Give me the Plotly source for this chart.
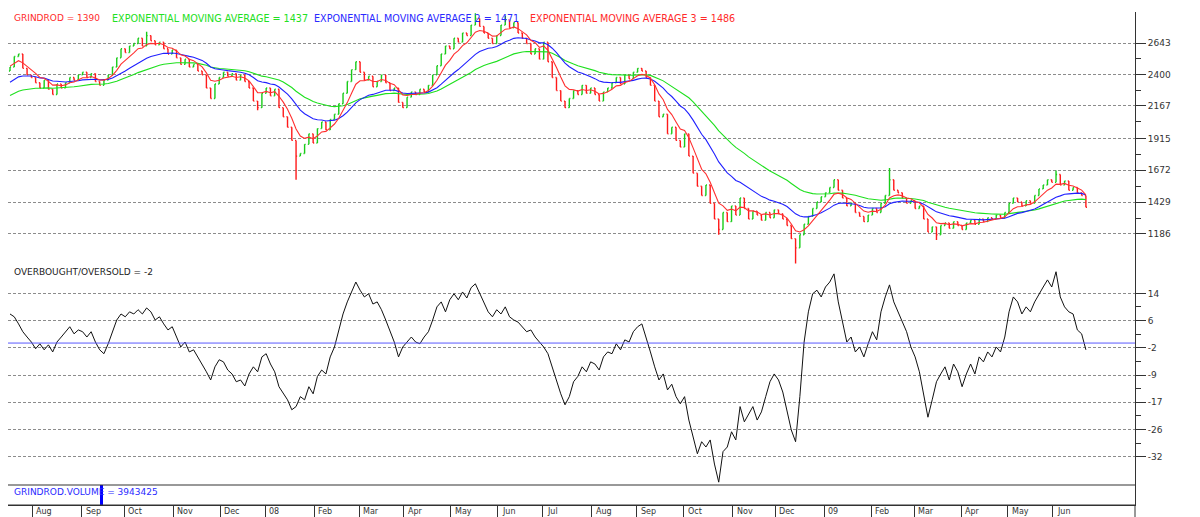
import pandas as pd
import plotly.graph_objects as go
from plotly.subplots import make_subplots

# ---------------- data ----------------
start_date = "2007-07-17"          # first trading day shown
days_per_bar = 2                   # one bar per two trading days
first_open = 2430

close = [
    2460, 2540, 2560, 2450, 2400, 2380, 2340, 2300, 2360, 2290,
    2250, 2330, 2300, 2340, 2380, 2360, 2400, 2420, 2380, 2410,
    2350, 2320, 2360, 2400, 2460, 2530, 2600, 2570, 2620, 2640,
    2680, 2620, 2700, 2660, 2630, 2650, 2600, 2560, 2590, 2530,
    2480, 2520, 2460, 2480, 2430, 2400, 2300, 2220, 2330, 2380,
    2420, 2390, 2410, 2360, 2400, 2350, 2300, 2200, 2150, 2260,
    2300, 2240, 2290, 2150, 2080, 2000, 1900, 1780, 1800, 1870,
    1950, 1880, 1990, 2040, 1980, 2060, 2100, 2180, 2260, 2350,
    2440, 2500, 2420, 2360, 2390, 2310, 2350, 2400, 2340, 2280,
    2300, 2190, 2150, 2230, 2270, 2250, 2290, 2270, 2320, 2400,
    2470, 2560, 2620, 2600, 2680, 2650, 2720, 2700, 2780, 2830,
    2770, 2720, 2680, 2640, 2700, 2780, 2820, 2760, 2800, 2720,
    2680, 2640, 2560, 2600, 2520, 2650, 2500, 2380, 2280, 2200,
    2150, 2220, 2280, 2250, 2320, 2260, 2300, 2250, 2200, 2270,
    2300, 2340, 2380, 2330, 2400, 2370, 2420, 2450, 2430, 2380,
    2320, 2200, 2080, 2100, 1950, 2000, 1900, 1850, 1950, 1780,
    1650, 1550, 1480, 1560, 1420, 1300, 1220, 1350, 1280, 1400,
    1330, 1460, 1380, 1300, 1360, 1330, 1290, 1350, 1310, 1370,
    1340, 1300, 1250, 1150, 1080, 1180, 1260, 1320, 1380, 1430,
    1470, 1500, 1540, 1600, 1520, 1460, 1400, 1420, 1350, 1320,
    1280, 1330, 1380, 1350, 1420, 1480, 1600, 1520, 1500, 1460,
    1420, 1440, 1380, 1400, 1300, 1200, 1240, 1180, 1250, 1270,
    1230, 1280, 1250, 1220, 1270, 1290, 1260, 1300, 1280, 1310,
    1300, 1330, 1310, 1350, 1420, 1460, 1430, 1400, 1440, 1420,
    1480, 1530, 1560, 1600, 1580, 1640, 1560, 1590, 1520, 1540,
    1500, 1480, 1390,
]

osc = [
    8.2, 7.4, 5.4, 3.2, 1.7, 0.3, -1.6, -0.2, -1.9, -0.5,
    -2.5, 0.3, 1.7, 3.2, 4.6, 2.6, 3.7, 3.2, 1.7, 3.2,
    0.3, -1.9, -3.0, -0.2, 3.2, 6.5, 8.2, 7.4, 8.8, 8.2,
    9.4, 8.2, 9.9, 8.8, 6.5, 7.4, 5.4, 3.7, 4.6, 1.7,
    -1.1, 0.3, -2.5, -1.9, -3.9, -5.9, -8.1, -10.4, -6.7, -4.7,
    -5.3, -7.6, -8.7, -10.9, -10.4, -12.1, -8.7, -6.7, -8.1, -3.9,
    -3.0, -5.9, -8.1, -12.3, -14.3, -16.0, -18.8, -17.9, -15.1, -16.0,
    -12.3, -14.3, -9.4, -7.6, -8.7, -3.9, -1.1, 3.2, 8.2, 11.6,
    14.4, 17.2, 14.9, 13.0, 13.9, 11.0, 11.6, 9.4, 6.5, 3.2,
    0.3, -3.9, -1.1, 0.3, 1.7, 0.3, -0.2, 1.7, 3.2, 6.5,
    10.2, 11.6, 8.8, 12.2, 13.9, 12.2, 14.4, 12.7, 15.6, 16.7,
    13.9, 11.6, 8.8, 7.4, 9.4, 8.2, 10.2, 7.4, 6.5, 5.9,
    4.6, 3.2, 3.7, 1.7, 0.3, -1.1, -3.0, -6.7, -10.9, -14.3,
    -17.4, -15.1, -10.9, -9.4, -6.7, -8.1, -5.3, -5.9, -7.6, -3.9,
    -2.5, -3.0, -0.2, -1.9, 0.9, 0.3, 3.2, 4.6, 5.4, 1.7,
    -2.5, -6.7, -10.4, -8.7, -13.2, -11.6, -15.1, -17.1, -15.1, -21.7,
    -26.4, -31.2, -27.8, -29.3, -27.3, -34.1, -39.2, -30.6, -29.3, -25.0,
    -27.3, -17.9, -22.2, -19.9, -17.9, -21.7, -19.4, -15.1, -10.9, -8.7,
    -10.4, -13.8, -19.4, -24.5, -27.8, -15.1, 0.3, 8.8, 13.9, 14.9,
    13.0, 15.8, 17.2, 19.5, 11.6, 5.4, 0.3, 1.7, -2.5, -1.1,
    -3.9, -0.2, 3.2, 0.9, 8.8, 13.0, 16.4, 11.6, 8.8, 5.9,
    3.2, -1.1, -3.9, -8.1, -15.1, -20.9, -16.0, -10.9, -8.7, -6.7,
    -10.4, -5.9, -8.1, -12.3, -8.7, -5.9, -8.7, -3.9, -5.3, -2.5,
    -3.9, -1.1, -2.5, 1.7, 8.8, 13.0, 11.6, 8.2, 10.2, 8.8,
    11.6, 13.9, 15.8, 17.8, 15.8, 20.1, 13.0, 10.2, 8.8, 8.2,
    3.7, 2.6, -1.9,
]

# intraday extremes that reach beyond the open/close range (bar index -> value)
wick_high_bar = [32, 109, 116, 206, 245]
wick_high_val = [2730, 2870, 2850, 1690, 1670]
wick_low_bar = [58, 67, 166, 184, 217]
wick_low_val = [2130, 1600, 1180, 960, 1140]

# EMA periods (in bars) and their starting values at the left edge
ema_span = {"fast": 6, "mid": 18, "slow": 36}
ema_seed = {"fast": 2470, "mid": 2330, "slow": 2230}

volume_day = [43]
volume_val = [41000000]

price_ticks = [1186, 1429, 1672, 1915, 2167, 2400, 2643]
osc_tick_text = ["14", "6", "-2", "-9", "-17", "-26", "-32"]

legend_texts = [
    ("GRINDROD = 1390", "#ff2a2a", 12, 9),
    ("EXPONENTIAL MOVING AVERAGE = 1437", "#22e022", 110, 9.6),
    ("EXPONENTIAL MOVING AVERAGE 2 = 1471", "#2a2aff", 312, 9.6),
    ("EXPONENTIAL MOVING AVERAGE 3 = 1486", "#ff2a2a", 528, 9.6),
]

# ---------------- derived ----------------
n = len(close)
bar_x = [i * days_per_bar for i in range(n)]
opens = [first_open] + close[:-1]
highs = [max(o, c) for o, c in zip(opens, close)]
lows = [min(o, c) for o, c in zip(opens, close)]
for b, v in zip(wick_high_bar, wick_high_val):
    highs[b] = max(highs[b], v)
for b, v in zip(wick_low_bar, wick_low_val):
    lows[b] = min(lows[b], v)


def ema(values, span, seed):
    a = 2.0 / (span + 1)
    out, e = [], seed
    for v in values:
        e = e + a * (v - e)
        out.append(e)
    return out


ema_fast = ema(close, ema_span["fast"], ema_seed["fast"])
ema_mid = ema(close, ema_span["mid"], ema_seed["mid"])
ema_slow = ema(close, ema_span["slow"], ema_seed["slow"])

days = pd.bdate_range(start_date, periods=530)
last_day = bar_x[-1]
month_idx, month_lab = [], []
for i in range(1, last_day + 1):
    if days[i].month != days[i - 1].month:
        month_idx.append(i)
        d = days[i]
        month_lab.append(d.strftime("%y") if d.month == 1 else d.strftime("%b"))

# ---------------- figure ----------------
W, H = 1200, 517
FONT = "DejaVu Sans"


def py(px):  # pixel-from-top -> paper y
    return 1 - px / H


fig = make_subplots(rows=3, cols=1, shared_xaxes=True, vertical_spacing=0)

fig.add_trace(go.Ohlc(x=bar_x, open=opens, high=highs, low=lows, close=close,
                      increasing=dict(line=dict(color="#19cc19", width=1.4)),
                      decreasing=dict(line=dict(color="#ff1a1a", width=1.4)),
                      tickwidth=0.25, showlegend=False, hoverinfo="skip"),
              row=1, col=1)
fig.add_trace(go.Scatter(x=bar_x, y=ema_slow, mode="lines",
                         line=dict(color="#1ee01e", width=1.1), showlegend=False),
              row=1, col=1)
fig.add_trace(go.Scatter(x=bar_x, y=ema_mid, mode="lines",
                         line=dict(color="#2020ff", width=1.1), showlegend=False),
              row=1, col=1)
fig.add_trace(go.Scatter(x=bar_x, y=ema_fast, mode="lines",
                         line=dict(color="#ff3030", width=1.1), showlegend=False),
              row=1, col=1)

fig.add_trace(go.Scatter(x=bar_x, y=osc, mode="lines",
                         line=dict(color="#111111", width=1), showlegend=False),
              row=2, col=1)

fig.add_trace(go.Bar(x=volume_day, y=volume_val, width=1.4,
                     marker=dict(color="#0000ff", line=dict(width=0)), showlegend=False),
              row=3, col=1)

x_range = [-0.94, 527]
axis_common = dict(showgrid=False, zeroline=False, range=x_range, showticklabels=False)
fig.update_xaxes(**axis_common, ticks="", rangeslider=dict(visible=False))
fig.update_xaxes(row=3, col=1, ticks="outside", ticklen=12, tickcolor="#333",
                 tickvals=[m - 0.5 for m in month_idx], showline=True,
                 linecolor="#333", linewidth=1)

grid = dict(showgrid=True, gridcolor="#8c8c8c", griddash="3px,2px", gridwidth=1)
ytick = dict(side="right", showline=True, linecolor="#333", linewidth=1,
             ticks="outside", ticklen=10, tickcolor="#333",
             tickfont=dict(family=FONT, size=9, color="#333"), zeroline=False)

minor_price = [(a + b) / 2 for a, b in zip(price_ticks[:-1], price_ticks[1:])]
fig.update_yaxes(row=1, col=1, range=[949, 2880], tickvals=price_ticks,
                 ticktext=[str(t) for t in price_ticks],
                 minor=dict(tickvals=minor_price, ticks="outside", ticklen=5,
                            tickcolor="#333", showgrid=False),
                 **grid, **ytick)

osc_ticks = [14 - k * 46 / 6 for k in range(7)]
minor_osc = [(a + b) / 2 for a, b in zip(osc_ticks[:-1], osc_ticks[1:])]
fig.update_yaxes(row=2, col=1, range=[-40, 22], tickvals=osc_ticks,
                 ticktext=osc_tick_text,
                 minor=dict(tickvals=minor_osc, ticks="outside", ticklen=5,
                            tickcolor="#333", showgrid=False),
                 **grid, **ytick)

fig.update_yaxes(row=3, col=1, range=[0, volume_val[0]], showgrid=False,
                 side="right", showline=True, linecolor="#333", linewidth=1,
                 ticks="", showticklabels=False, zeroline=False)

fig.add_hline(y=0, row=2, col=1, line=dict(color="#5a5aff", width=1))

shapes = []
for ypx in (265, 485, 505):
    shapes.append(dict(type="line", xref="paper", yref="paper", x0=0, x1=1,
                       y0=py(ypx), y1=py(ypx), line=dict(color="#333", width=1)))
shapes.append(dict(type="line", xref="paper", yref="paper", x0=1, x1=1,
                   y0=0, y1=py(505), line=dict(color="#333", width=1)))

annotations = []
for text, color, xpx, size in legend_texts:
    annotations.append(dict(text=text, xref="paper", yref="paper",
                            x=(xpx - 8) / (1135 - 8), y=py(18), xanchor="left",
                            yanchor="middle", showarrow=False,
                            font=dict(family=FONT, size=size, color=color)))
annotations.append(dict(text="OVERBOUGHT/OVERSOLD = -2", xref="paper", yref="paper",
                        x=(12 - 8) / 1127, y=py(272), xanchor="left", yanchor="middle",
                        showarrow=False, font=dict(family=FONT, size=9, color="#222")))
annotations.append(dict(text="GRINDROD.VOLUME = 3943425", xref="paper", yref="paper",
                        x=(12 - 8) / 1127, y=py(492), xanchor="left", yanchor="middle",
                        showarrow=False, font=dict(family=FONT, size=9, color="#2a2aff")))
for m, lab in zip(month_idx, month_lab):
    annotations.append(dict(text=lab, xref="x3", yref="paper", x=m - 0.5, y=py(511),
                            xanchor="left", yanchor="middle", xshift=2, showarrow=False,
                            font=dict(family=FONT, size=8, color="#333")))

fig.update_layout(
    width=W, height=H,
    margin=dict(l=8, r=65, t=0, b=0),
    paper_bgcolor="white", plot_bgcolor="white",
    showlegend=False, bargap=0,
    font=dict(family=FONT, size=9, color="#333"),
    yaxis=dict(domain=[py(265), py(12)]),
    yaxis2=dict(domain=[py(485), py(265)]),
    yaxis3=dict(domain=[py(505), py(485)]),
    shapes=shapes, annotations=annotations,
    hovermode=False,
)

fig.write_html("out.html", config={"displayModeBar": False, "staticPlot": True},
               post_script="document.body.style.margin='0';document.body.style.padding='0';")
